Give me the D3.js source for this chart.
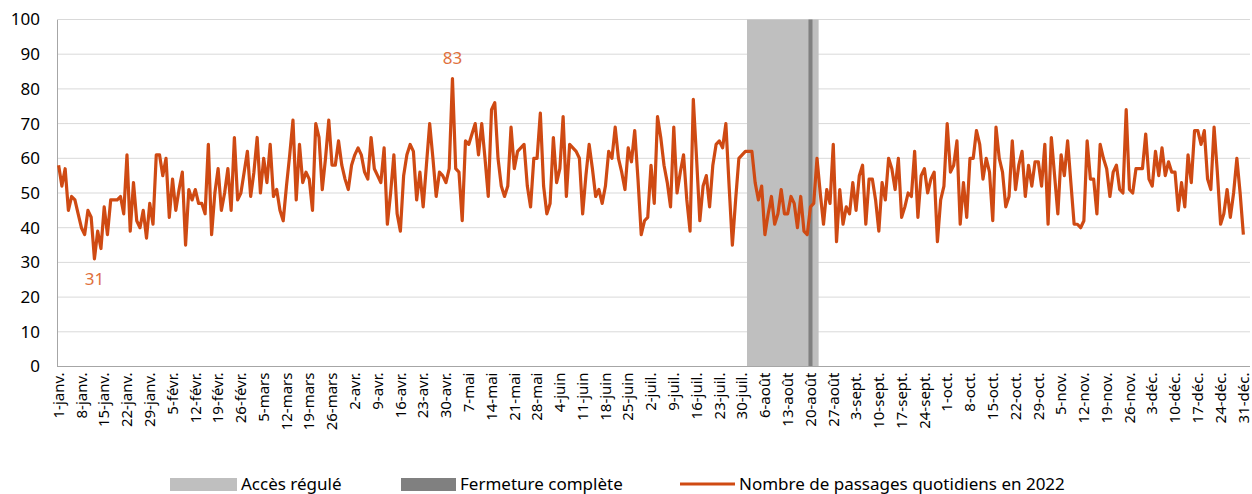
<!DOCTYPE html>
<html lang="fr">
<head>
<meta charset="utf-8">
<script src="https://cdn.jsdelivr.net/npm/d3@7"></script>
<style>
  body { margin: 0; background: #fff; }
  svg text { font-family: "Noto Sans", Lato, sans-serif; fill: #000; }
</style>
</head>
<body>
<svg width="1252" height="494"></svg>
<script>
// Nombre de passages quotidiens, 1er janvier au 31 décembre 2022
const passages = [
  58, 52, 57, 45, 49, 48, 44, 40, 38, 45, 43, 31, 39, 34, 46, 38, 48, 48, 48, 49,
  44, 61, 39, 53, 42, 40, 45, 37, 47, 41, 61, 61, 55, 60, 43, 54, 45, 51, 56, 35,
  51, 48, 51, 47, 47, 44, 64, 38, 50, 57, 45, 50, 57, 45, 66, 48, 50, 56, 62, 49,
  56, 66, 50, 60, 53, 64, 49, 51, 45, 42, 52, 61, 71, 48, 64, 53, 56, 54, 45, 70,
  66, 51, 60, 71, 58, 58, 65, 58, 54, 51, 58, 61, 63, 61, 56, 54, 66, 57, 55, 53,
  63, 41, 50, 61, 44, 39, 55, 61, 64, 62, 48, 56, 46, 58, 70, 60, 49, 56, 55, 53,
  57, 83, 57, 56, 42, 65, 64, 67, 70, 61, 70, 60, 49, 74, 76, 60, 52, 49, 52, 69,
  57, 62, 63, 64, 52, 46, 60, 60, 73, 52, 44, 47, 66, 53, 57, 72, 49, 64, 63, 62,
  60, 44, 55, 64, 57, 49, 51, 47, 52, 62, 60, 69, 60, 56, 51, 63, 59, 68, 54, 38,
  42, 43, 58, 47, 72, 66, 58, 53, 46, 69, 50, 56, 61, 48, 39, 77, 60, 42, 52, 55,
  46, 58, 64, 65, 63, 70, 52, 35, 48, 60, 61, 62, 62, 62, 53, 48, 52, 38, 44, 49,
  41, 44, 51, 44, 44, 49, 47, 40, 49, 39, 38, 46, 47, 60, 50, 41, 51, 47, 64, 36,
  51, 41, 46, 44, 53, 45, 55, 58, 41, 54, 54, 48, 39, 53, 48, 60, 57, 51, 60, 43,
  46, 50, 49, 62, 43, 55, 57, 50, 54, 56, 36, 48, 52, 70, 56, 58, 65, 41, 53, 43,
  60, 60, 68, 64, 54, 60, 56, 42, 69, 60, 56, 46, 49, 65, 51, 58, 62, 49, 58, 52,
  59, 59, 52, 64, 41, 66, 55, 44, 61, 55, 65, 53, 41, 41, 40, 42, 65, 54, 54, 44,
  64, 60, 57, 49, 56, 58, 51, 50, 74, 51, 50, 57, 57, 57, 67, 54, 52, 62, 55, 63,
  55, 59, 56, 56, 45, 53, 46, 61, 53, 68, 68, 64, 68, 54, 51, 69, 56, 41, 44, 51,
  43, 50, 60, 50, 38
];
const mois = ['janv.', 'févr.', 'mars', 'avr.', 'mai', 'juin', 'juil.', 'août', 'sept.', 'oct.', 'nov.', 'déc.'];
const yTicks = [0, 10, 20, 30, 40, 50, 60, 70, 80, 90, 100];
const accesRegule = ['2022-08-01', '2022-08-22'];
const fermeture = ['2022-08-20', '2022-08-20'];
const legendItems = ['Accès régulé', 'Fermeture complète', 'Nombre de passages quotidiens en 2022'];

const svg = d3.select('svg');
const margin = { top: 19.5, left: 57, right: 7, bottom: 127.5 };
const width = 1252;
const height = 494;

const parse = d3.timeParse('%Y-%m-%d');
const days = d3.timeDay.range(new Date(2022, 0, 1), new Date(2023, 0, 1));
const data = days.map((d, i) => ({ date: d, value: passages[i] }));
const key = d => +d;

const xScale = d3.scaleBand()
    .domain(days.map(key))
    .range([margin.left, width - margin.right])
    .padding(0);
const xc = d => xScale(key(d)) + xScale.bandwidth() / 2;

const yScale = d3.scaleLinear()
    .domain([0, 100])
    .range([height - margin.bottom, margin.top]);

const y0 = yScale(0);

// Grid lines
svg.append('g')
    .selectAll('line')
    .data(yTicks.slice(1))
    .join('line')
    .attr('x1', margin.left)
    .attr('x2', 1250)
    .attr('y1', d => yScale(d))
    .attr('y2', d => yScale(d))
    .attr('stroke', '#d9d9d9')
    .attr('stroke-width', 1);

// Periods (bands)
const bandRect = (range, color, extra) => {
    const a = parse(range[0]);
    const b = parse(range[1]);
    svg.append('rect')
        .attr('x', xScale(key(a)) - extra)
        .attr('y', yScale(100))
        .attr('width', xScale(key(b)) + xScale.bandwidth() - xScale(key(a)) + 2 * extra)
        .attr('height', y0 - yScale(100))
        .attr('fill', color);
};
bandRect(accesRegule, '#bfbfbf', 0);
bandRect(fermeture, '#808080', 0.4);

// Axes
const yAxis = d3.axisLeft(yScale).tickValues(yTicks).tickSize(0).tickPadding(17);
svg.append('g')
    .attr('transform', `translate(${margin.left},0)`)
    .call(yAxis)
    .call(g => g.select('.domain').attr('stroke', '#a6a6a6'))
    .call(g => g.selectAll('text').attr('font-size', 17).attr('font-family', '"Noto Sans", sans-serif'));

svg.append('line')
    .attr('x1', margin.left)
    .attr('x2', 1250)
    .attr('y1', y0)
    .attr('y2', y0)
    .attr('stroke', '#a6a6a6');

const tickDays = days.filter((d, i) => i % 7 === 0);
svg.append('g')
    .selectAll('text')
    .data(tickDays)
    .join('text')
    .attr('transform', d => `translate(${xc(d)},${y0 + 6}) rotate(-90)`)
    .attr('text-anchor', 'end')
    .attr('dy', '0.35em')
    .attr('font-size', 15)
    .text(d => `${d.getDate()}-${mois[d.getMonth()]}`);

// Line
const line = d3.line()
    .x(d => xc(d.date))
    .y(d => yScale(d.value));

svg.append('path')
    .datum(data)
    .attr('d', line)
    .attr('fill', 'none')
    .attr('stroke', '#cf4a13')
    .attr('stroke-width', 3.2)
    .attr('stroke-linejoin', 'round');

// Min / max labels
const maxPt = data[d3.maxIndex(data, d => d.value)];
const minPt = data[d3.minIndex(data, d => d.value)];
svg.append('g')
    .selectAll('text')
    .data([{ p: maxPt, dy: -20 }, { p: minPt, dy: 20 }])
    .join('text')
    .attr('x', d => xc(d.p.date))
    .attr('y', d => yScale(d.p.value) + d.dy)
    .attr('text-anchor', 'middle')
    .attr('dy', '0.35em')
    .attr('font-size', 17)
    .style('fill', '#e0703c')
    .text(d => d.p.value);

// Legend
const legendY = 484;
const legend = svg.append('g');
legend.append('rect').attr('x', 170).attr('y', legendY - 6).attr('width', 67).attr('height', 13).attr('fill', '#bfbfbf');
legend.append('text').attr('x', 241).attr('y', legendY).attr('dy', '0.35em').attr('font-size', 17).text(legendItems[0]);
legend.append('rect').attr('x', 401).attr('y', legendY - 6).attr('width', 55).attr('height', 13).attr('fill', '#808080');
legend.append('text').attr('x', 460).attr('y', legendY).attr('dy', '0.35em').attr('font-size', 17).text(legendItems[1]);
legend.append('line').attr('x1', 680).attr('x2', 735).attr('y1', legendY).attr('y2', legendY)
    .attr('stroke', '#cf4a13').attr('stroke-width', 3);
legend.append('text').attr('x', 739).attr('y', legendY).attr('dy', '0.35em').attr('font-size', 17).text(legendItems[2]);
</script>
</body>
</html>
